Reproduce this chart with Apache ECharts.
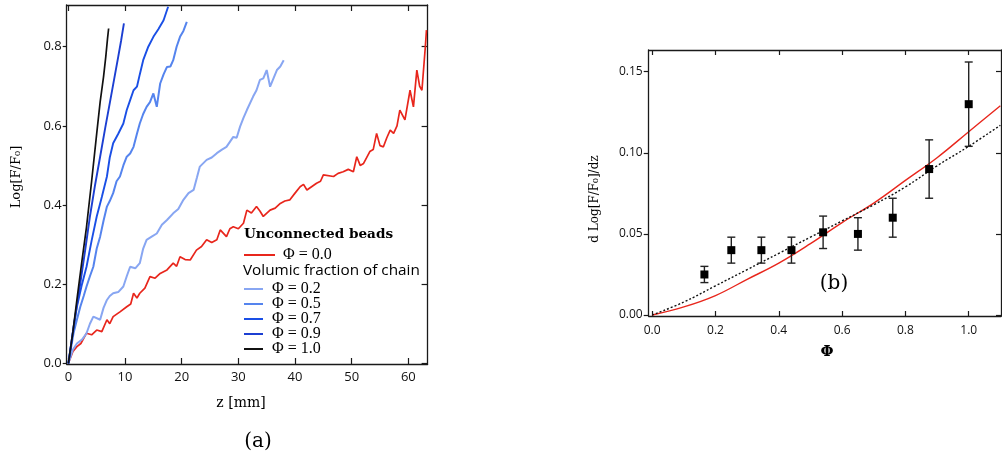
<!DOCTYPE html>
<html><head><meta charset="utf-8">
<script src="https://cdn.jsdelivr.net/npm/echarts@6/dist/echarts.min.js"></script>
<style>html,body{margin:0;padding:0;background:#fff}#c{width:1002px;height:460px}</style>
</head><body><div id="c"></div>
<script>
// ---------- Panel (a): Log[F/F0] vs z ----------
const zTicks = [0, 10, 20, 30, 40, 50, 60];
const logTicks = [0, 0.2, 0.4, 0.6, 0.8];

const phi00 = [[0,0],[0.8,0.03],[1.5,0.042],[2.2,0.05],[3.2,0.076],[4.1,0.072],[5,0.084],[5.9,0.08],[6.8,0.11],[7.3,0.1],[7.9,0.118],[9.1,0.13],[10.3,0.143],[11,0.15],[11.5,0.177],[12.1,0.165],[12.6,0.177],[13.5,0.19],[14.4,0.219],[15.3,0.215],[16.2,0.227],[17.4,0.236],[18.5,0.253],[19.1,0.245],[19.7,0.269],[20.6,0.262],[21.5,0.261],[22.6,0.286],[23.5,0.295],[24.4,0.312],[25.3,0.305],[26.2,0.312],[26.8,0.337],[27.9,0.32],[28.5,0.34],[29.1,0.345],[30,0.34],[30.9,0.354],[31.5,0.387],[32.3,0.38],[33.2,0.396],[33.8,0.385],[34.4,0.371],[35.6,0.387],[36.5,0.392],[37.4,0.404],[38.2,0.41],[39.1,0.413],[40,0.43],[40.9,0.446],[41.5,0.452],[42.1,0.438],[43.8,0.455],[44.5,0.46],[45,0.476],[46.8,0.472],[47.6,0.48],[48.5,0.484],[49.4,0.49],[50.3,0.484],[50.9,0.522],[51.5,0.5],[52.1,0.505],[53.2,0.535],[53.8,0.54],[54.4,0.581],[55,0.55],[55.6,0.547],[56.2,0.57],[56.8,0.589],[57.4,0.581],[58,0.6],[58.5,0.64],[59.4,0.615],[60.3,0.69],[60.9,0.648],[61.5,0.741],[62,0.7],[62.4,0.69],[63,0.8],[63.2,0.842]];
const phi02 = [[0,0],[0.8,0.035],[1.5,0.05],[2.4,0.06],[3.2,0.076],[3.8,0.1],[4.4,0.118],[5.6,0.11],[6.2,0.14],[6.8,0.16],[7.3,0.17],[7.9,0.177],[8.8,0.18],[9.7,0.194],[10.3,0.22],[10.9,0.244],[11.8,0.24],[12.6,0.253],[13.2,0.29],[13.8,0.312],[14.7,0.32],[15.6,0.328],[16.5,0.35],[17.4,0.362],[18.5,0.379],[19.4,0.39],[20.3,0.413],[21.2,0.43],[22.1,0.438],[22.7,0.47],[23.2,0.497],[24.4,0.514],[25.3,0.52],[26.2,0.531],[27.1,0.54],[27.9,0.547],[29.1,0.572],[29.7,0.57],[30.3,0.598],[30.9,0.62],[31.5,0.64],[32.6,0.674],[33.2,0.69],[33.8,0.716],[34.4,0.72],[35,0.741],[35.6,0.699],[36.2,0.72],[36.8,0.741],[37.4,0.75],[38,0.766]];
const phi05 = [[0,0],[0.9,0.076],[1.5,0.11],[2.1,0.143],[2.7,0.17],[3.2,0.194],[3.8,0.22],[4.4,0.244],[5,0.29],[5.6,0.32],[6.2,0.36],[6.8,0.396],[7.3,0.41],[7.9,0.43],[8.5,0.46],[9.1,0.472],[9.7,0.5],[10.3,0.522],[10.9,0.53],[11.5,0.547],[12.1,0.58],[12.6,0.606],[13.2,0.63],[13.8,0.648],[14.4,0.66],[15,0.682],[15.6,0.648],[16.2,0.707],[16.8,0.73],[17.4,0.749],[18,0.75],[18.5,0.766],[19.1,0.8],[19.7,0.825],[20.3,0.84],[20.9,0.863]];
const phi07 = [[0,0],[0.8,0.08],[1.5,0.143],[2.4,0.2],[3.2,0.244],[4.1,0.31],[5,0.371],[5.9,0.42],[6.8,0.472],[7.3,0.52],[7.9,0.556],[8.8,0.58],[9.7,0.606],[10.3,0.64],[10.9,0.665],[11.5,0.69],[12.1,0.699],[12.6,0.73],[13.2,0.766],[14.1,0.8],[15,0.825],[15.9,0.845],[16.8,0.867],[17.6,0.901]];
const phi09 = [[0,0],[1,0.1],[2.1,0.202],[3,0.29],[3.8,0.371],[4.7,0.45],[5.6,0.522],[6.5,0.595],[7.4,0.665],[8.1,0.72],[8.8,0.775],[9.3,0.815],[9.8,0.859]];
const phi10 = [[0,0],[0.8,0.08],[1.5,0.16],[2.4,0.26],[3.2,0.345],[4.1,0.46],[5,0.581],[5.6,0.66],[6.2,0.724],[6.6,0.775],[6.9,0.82],[7.1,0.846]];

// ---------- Panel (b): d Log[F/F0]/dz vs Φ ----------
const phiTicks = [0, 0.2, 0.4, 0.6, 0.8, 1.0];
const rateTicks = [0, 0.05, 0.10, 0.15];
const phiMeas = [0.165, 0.25, 0.345, 0.44, 0.54, 0.65, 0.76, 0.875, 1.0];
const rateMeas = [0.025, 0.040, 0.040, 0.040, 0.051, 0.050, 0.060, 0.090, 0.130];
const rateLow  = [0.020, 0.032, 0.032, 0.032, 0.041, 0.040, 0.048, 0.072, 0.104];
const rateHigh = [0.030, 0.048, 0.048, 0.048, 0.061, 0.060, 0.072, 0.108, 0.156];
const fitPhi = [0, 0.1, 0.2, 0.3, 0.4, 0.5, 0.6, 0.7, 0.8, 0.9, 1.0, 1.1];
const fitRed = [0, 0.005, 0.012, 0.022, 0.032, 0.044, 0.057, 0.069, 0.083, 0.097, 0.113, 0.129];
const fitDot = [0, 0.008, 0.018, 0.028, 0.038, 0.048, 0.058, 0.068, 0.079, 0.092, 0.104, 0.117];

const names = ['Φ = 0.0', 'Φ = 0.2', 'Φ = 0.5', 'Φ = 0.7', 'Φ = 0.9', 'Φ = 1.0'];
const colors = ['#e8261c', '#88a6f2', '#5584ee', '#1a4fe6', '#1c3fd2', '#111111'];

const chart = echarts.init(document.getElementById('c'), null, {renderer: 'canvas'});
const AX = '#1a1a1a';
const lblFont = {fontFamily: 'Open Sans', color: '#111'};

function mkAxis(o) {
  return Object.assign({
    type: 'value', splitLine: {show: false},
    axisLine: {show: true, onZero: false, lineStyle: {color: AX, width: 1.3}},
  }, o);
}

const xAxes = [
  mkAxis({gridIndex: 0, position: 'bottom', min: -0.3, max: 63.4,
    axisTick: {inside: true, length: 6, customValues: zTicks, lineStyle: {color: AX, width: 1.2}},
    axisLabel: Object.assign({fontSize: 13, margin: 7, customValues: zTicks, formatter: v => String(v)}, lblFont)}),
  mkAxis({gridIndex: 0, position: 'top', min: -0.3, max: 63.4,
    axisTick: {inside: true, length: 6, customValues: zTicks, lineStyle: {color: AX, width: 1.2}},
    axisLabel: {show: false}}),
  mkAxis({gridIndex: 1, position: 'bottom', min: -0.011, max: 1.102,
    axisTick: {inside: true, length: 5, customValues: phiTicks, lineStyle: {color: AX, width: 1.2}},
    axisLabel: Object.assign({fontSize: 12, margin: 9, customValues: phiTicks, formatter: v => v.toFixed(1)}, lblFont)}),
  mkAxis({gridIndex: 1, position: 'top', min: -0.011, max: 1.102,
    axisTick: {inside: true, length: 5, customValues: phiTicks, lineStyle: {color: AX, width: 1.2}},
    axisLabel: {show: false}})
];
const yAxes = [
  mkAxis({gridIndex: 0, position: 'left', min: -0.0018, max: 0.9054,
    axisTick: {inside: false, length: 4, customValues: logTicks, lineStyle: {color: AX, width: 1.2}},
    axisLabel: Object.assign({fontSize: 13, margin: 5, customValues: logTicks, formatter: v => v.toFixed(1)}, lblFont)}),
  mkAxis({gridIndex: 0, position: 'right', min: -0.0018, max: 0.9054,
    axisTick: {inside: true, length: 6, customValues: logTicks, lineStyle: {color: AX, width: 1.2}},
    axisLabel: {show: false}}),
  mkAxis({gridIndex: 1, position: 'left', min: -0.0006, max: 0.1634,
    axisTick: {inside: false, length: 5, customValues: rateTicks, lineStyle: {color: AX, width: 1.2}},
    axisLabel: Object.assign({fontSize: 12, margin: 6, customValues: rateTicks, formatter: v => v.toFixed(2)}, lblFont)}),
  mkAxis({gridIndex: 1, position: 'right', min: -0.0006, max: 0.1634,
    axisTick: {inside: true, length: 5, customValues: rateTicks, lineStyle: {color: AX, width: 1.2}},
    axisLabel: {show: false}})
];

const curveData = [phi00, phi02, phi05, phi07, phi09, phi10];
const widths = [1.7, 2, 2, 1.9, 1.9, 1.7];
const series = curveData.map((d, i) => ({
  name: names[i], type: 'line', xAxisIndex: 0, yAxisIndex: 0, data: d,
  showSymbol: false, symbol: 'none', smooth: false, color: colors[i],
  lineStyle: {color: colors[i], width: widths[i]}, z: 3 + i
}));

series.push({
  name: 'fitRed', type: 'line', xAxisIndex: 2, yAxisIndex: 2, smooth: 0.4,
  data: fitPhi.map((p, i) => [p, fitRed[i]]), symbol: 'none',
  lineStyle: {color: '#e8261c', width: 1.4}, z: 3
});
series.push({
  name: 'fitDot', type: 'line', xAxisIndex: 2, yAxisIndex: 2, smooth: 0.4,
  data: fitPhi.map((p, i) => [p, fitDot[i]]), symbol: 'none',
  lineStyle: {color: '#111', width: 1.4, type: [2, 2]}, z: 3
});
series.push({
  name: 'err', type: 'custom', xAxisIndex: 2, yAxisIndex: 2, z: 4,
  data: phiMeas.map((p, i) => [p, rateLow[i], rateHigh[i]]),
  encode: {x: 0, y: [1, 2]},
  renderItem: function (params, api) {
    const x = api.value(0);
    const a = api.coord([x, api.value(2)]);
    const b = api.coord([x, api.value(1)]);
    const w = 4;
    const st = {stroke: '#222', lineWidth: 1.4};
    return {type: 'group', children: [
      {type: 'line', shape: {x1: a[0], y1: a[1], x2: b[0], y2: b[1]}, style: st},
      {type: 'line', shape: {x1: a[0] - w, y1: a[1], x2: a[0] + w, y2: a[1]}, style: st},
      {type: 'line', shape: {x1: b[0] - w, y1: b[1], x2: b[0] + w, y2: b[1]}, style: st}
    ]};
  }
});
series.push({
  name: 'meas', type: 'scatter', xAxisIndex: 2, yAxisIndex: 2, z: 5,
  data: phiMeas.map((p, i) => [p, rateMeas[i]]),
  symbol: 'rect', symbolSize: 8, itemStyle: {color: '#000', opacity: 1}
});

chart.setOption({
  animation: false,
  backgroundColor: '#fff',
  grid: [
    {left: 66.7, top: 5, width: 360.9, height: 359, containLabel: false},
    {left: 648.7, top: 50, width: 352.3, height: 266, containLabel: false}
  ],
  xAxis: xAxes,
  yAxis: yAxes,
  legend: [
    {data: [names[0]], orient: 'vertical', left: 244, top: 247, padding: 0,
     itemWidth: 31, itemHeight: 2, icon: 'rect', itemGap: 0,
     textStyle: {fontFamily: 'Liberation Serif', fontSize: 16, color: '#000', lineHeight: 16, padding: [0, 0, 0, 3]}},
    {data: names.slice(1), orient: 'vertical', left: 244, top: 281, padding: 0,
     itemWidth: 19, itemHeight: 2, icon: 'rect', itemGap: -1,
     textStyle: {fontFamily: 'Liberation Serif', fontSize: 16, color: '#000', lineHeight: 14, padding: [0, 0, 0, 4]}}
  ],
  graphic: [
    {type: 'text', x: 244, y: 234, style: {text: 'Unconnected beads', font: 'bold 13.6px "DejaVu Serif"', fill: '#000', textVerticalAlign: 'middle', verticalAlign: 'middle'}},
    {type: 'text', x: 243, y: 271, style: {text: 'Volumic fraction of chain', font: '15.3px "Open Sans"', fill: '#000', textVerticalAlign: 'middle', verticalAlign: 'middle'}},
    {type: 'text', x: 241, y: 403, style: {text: 'z [mm]', font: '14px "DejaVu Serif"', fill: '#000', textAlign: 'center', align: 'center', textVerticalAlign: 'middle', verticalAlign: 'middle'}},
    {type: 'text', x: 17, y: 177, rotation: Math.PI / 2, style: {text: 'Log[F/F₀]', font: '13px "DejaVu Serif"', fill: '#000', textAlign: 'center', align: 'center', textVerticalAlign: 'middle', verticalAlign: 'middle'}},
    {type: 'text', x: 595, y: 199, rotation: Math.PI / 2, style: {text: 'd Log[F/F₀]/dz', font: '12px "DejaVu Serif"', fill: '#000', textAlign: 'center', align: 'center', textVerticalAlign: 'middle', verticalAlign: 'middle'}},
    {type: 'text', x: 827, y: 352, style: {text: 'Φ', font: 'bold 15px "DejaVu Serif"', fill: '#000', textAlign: 'center', align: 'center', textVerticalAlign: 'middle', verticalAlign: 'middle'}},
    {type: 'text', x: 258, y: 442, style: {text: '(a)', font: '20px "DejaVu Serif"', fill: '#000', textAlign: 'center', align: 'center', textVerticalAlign: 'middle', verticalAlign: 'middle'}},
    {type: 'text', x: 834, y: 284, style: {text: '(b)', font: '20px "DejaVu Serif"', fill: '#000', textAlign: 'center', align: 'center', textVerticalAlign: 'middle', verticalAlign: 'middle'}}
  ],
  series: series
});
</script>
</body></html>
